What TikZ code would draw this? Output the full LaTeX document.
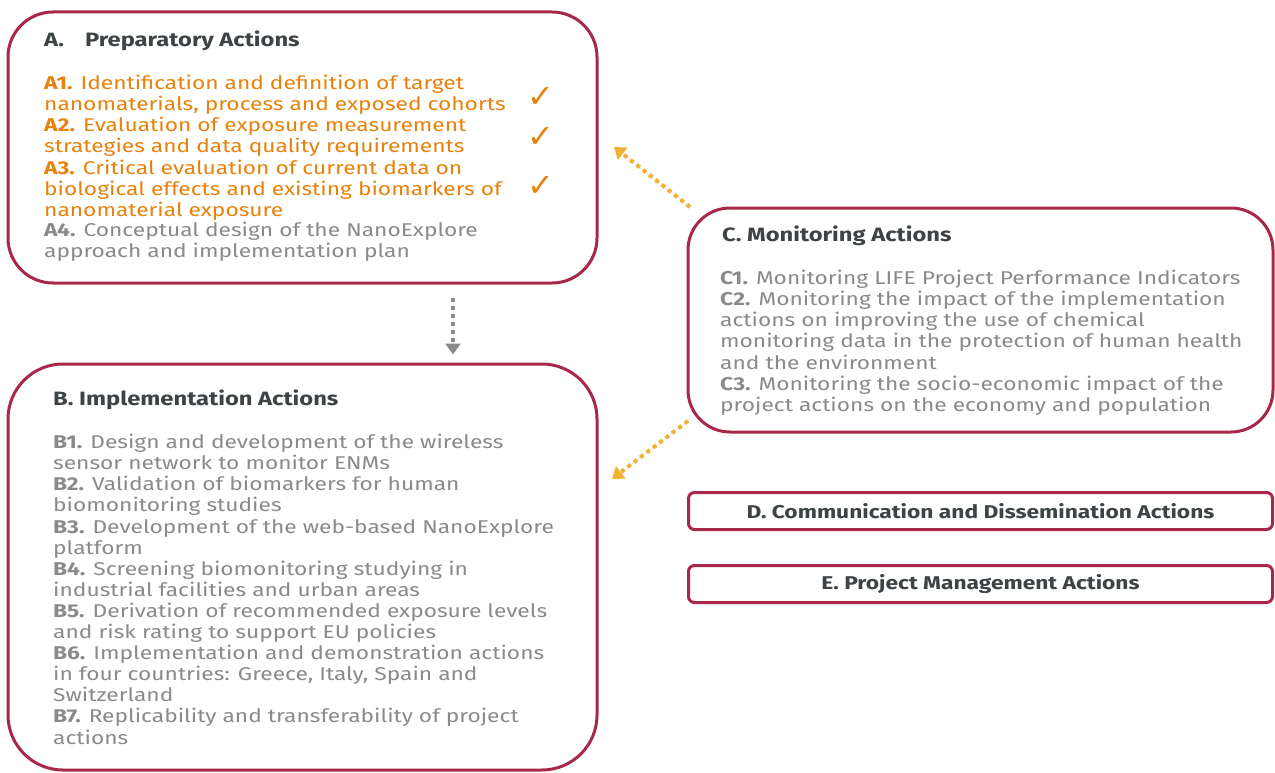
\documentclass[tikz,border=0pt]{standalone}
\usepackage{fontspec}
\setmainfont{Fira Sans}[FakeStretch=1.23]
\newfontfamily\symfont{DejaVu Sans}
\usetikzlibrary{arrows.meta}
\definecolor{frame}{HTML}{A8284A}
\definecolor{headc}{HTML}{3E4346}
\definecolor{orng}{HTML}{E8820C}
\definecolor{grayt}{HTML}{8A8A8A}
\definecolor{gold}{HTML}{EFB233}
\definecolor{arrgray}{HTML}{8A8A8A}
\tikzset{
  bigbox/.style={draw=frame, line width=3pt, rounded corners=#1, inner sep=0pt},
  smallbox/.style={draw=frame, line width=3pt, rounded corners=6pt, inner sep=0pt, minimum width=584pt, minimum height=37pt},
  headtxt/.style={text=headc, font=\fontsize{18.5}{21}\selectfont\bfseries, anchor=base west, inner sep=0pt},
  bighead/.style={headtxt, font=\fontsize{19.3}{21}\selectfont\bfseries},
  bodytxt/.style={font=\fontsize{18.5}{21.1}\selectfont, anchor=north west, inner sep=0pt, align=left},
  chk/.style={text=orng, font=\symfont\fontsize{32}{32}\selectfont, inner sep=0pt},
  flowarrow/.style={line width=4pt, dash pattern=on 4pt off 4pt, -{Triangle[width=15pt,length=11pt]}},
}
\begin{document}
\begin{tikzpicture}[x=1pt,y=-1pt]
\useasboundingbox[fill=white] (0,0) rectangle (1275,773);
% boxes
\node[bigbox=45pt, minimum width=589pt, minimum height=271pt] (boxA) at (302.5,147.5) {};
\node[bigbox=55pt, minimum width=589pt, minimum height=406pt] (boxB) at (302.5,567) {};
\node[bigbox=42pt, minimum width=585pt, minimum height=224pt] (boxC) at (980.5,320) {};
\node[smallbox] (boxD) at (980.5,511) {};
\node[smallbox] (boxE) at (980.5,584) {};
% A
\node[bighead] (aHead) at (44,47) {A.\hspace{21pt}Preparatory Actions};
\node[bodytxt, text=orng] (aText) at (44,75) {\textbf{A1.} Identification and definition of target\\
nanomaterials, process and exposed cohorts\\
\textbf{A2.} Evaluation of exposure measurement\\
strategies and data quality requirements\\
\textbf{A3.} Critical evaluation of current data on\\
biological effects and existing biomarkers of\\
nanomaterial exposure};
\node[bodytxt, text=grayt, anchor=north west] (aText4) at (44,222) {\textbf{A4.} Conceptual design of the NanoExplore\\
approach and implementation plan};
\node[chk] (chk1) at (541,97) {✓};
\node[chk] (chk2) at (541,137) {✓};
\node[chk] (chk3) at (541,186) {✓};
% B
\node[bighead] (bHead) at (53,405) {B. Implementation Actions};
\node[bodytxt, text=grayt] (bText) at (53,434) {\textbf{B1.} Design and development of the wireless\\
sensor network to monitor ENMs\\
\textbf{B2.} Validation of biomarkers for human\\
biomonitoring studies\\
\textbf{B3.} Development of the web-based NanoExplore\\
platform\\
\textbf{B4.} Screening biomonitoring studying in\\
industrial facilities and urban areas\\
\textbf{B5.} Derivation of recommended exposure levels\\
and risk rating to support EU policies\\
\textbf{B6.} Implementation and demonstration actions\\
in four countries: Greece, Italy, Spain and\\
Switzerland\\
\textbf{B7.} Replicability and transferability of project\\
actions};
% C
\node[bighead] (cHead) at (722,241) {C. Monitoring Actions};
\node[bodytxt, text=grayt] (cText) at (720,270) {\textbf{C1.} Monitoring LIFE Project Performance Indicators\\
\textbf{C2.} Monitoring the impact of the implementation\\
actions on improving the use of chemical\\
monitoring data in the protection of human health\\
and the environment\\
\textbf{C3.} Monitoring the socio-economic impact of the\\
project actions on the economy and population};
% D, E
\node[headtxt, anchor=center] (dText) at (boxD) {D. Communication and Dissemination Actions};
\node[headtxt, anchor=center] (eText) at (boxE) {E. Project Management Actions};
% arrows
\coordinate (cA1) at (690,207);
\coordinate (cA2) at (614,147);
\coordinate (cB1) at (688,421);
\coordinate (cB2) at (612,479);
\draw[flowarrow, draw=arrgray, fill=arrgray] ([yshift=-13pt]boxA.south -| 453,0) -- ([yshift=8pt]boxB.north -| 453,0);
\draw[flowarrow, draw=gold, fill=gold] (cA1) -- (cA2);
\draw[flowarrow, draw=gold, fill=gold] (cB1) -- (cB2);
\end{tikzpicture}
\end{document}
